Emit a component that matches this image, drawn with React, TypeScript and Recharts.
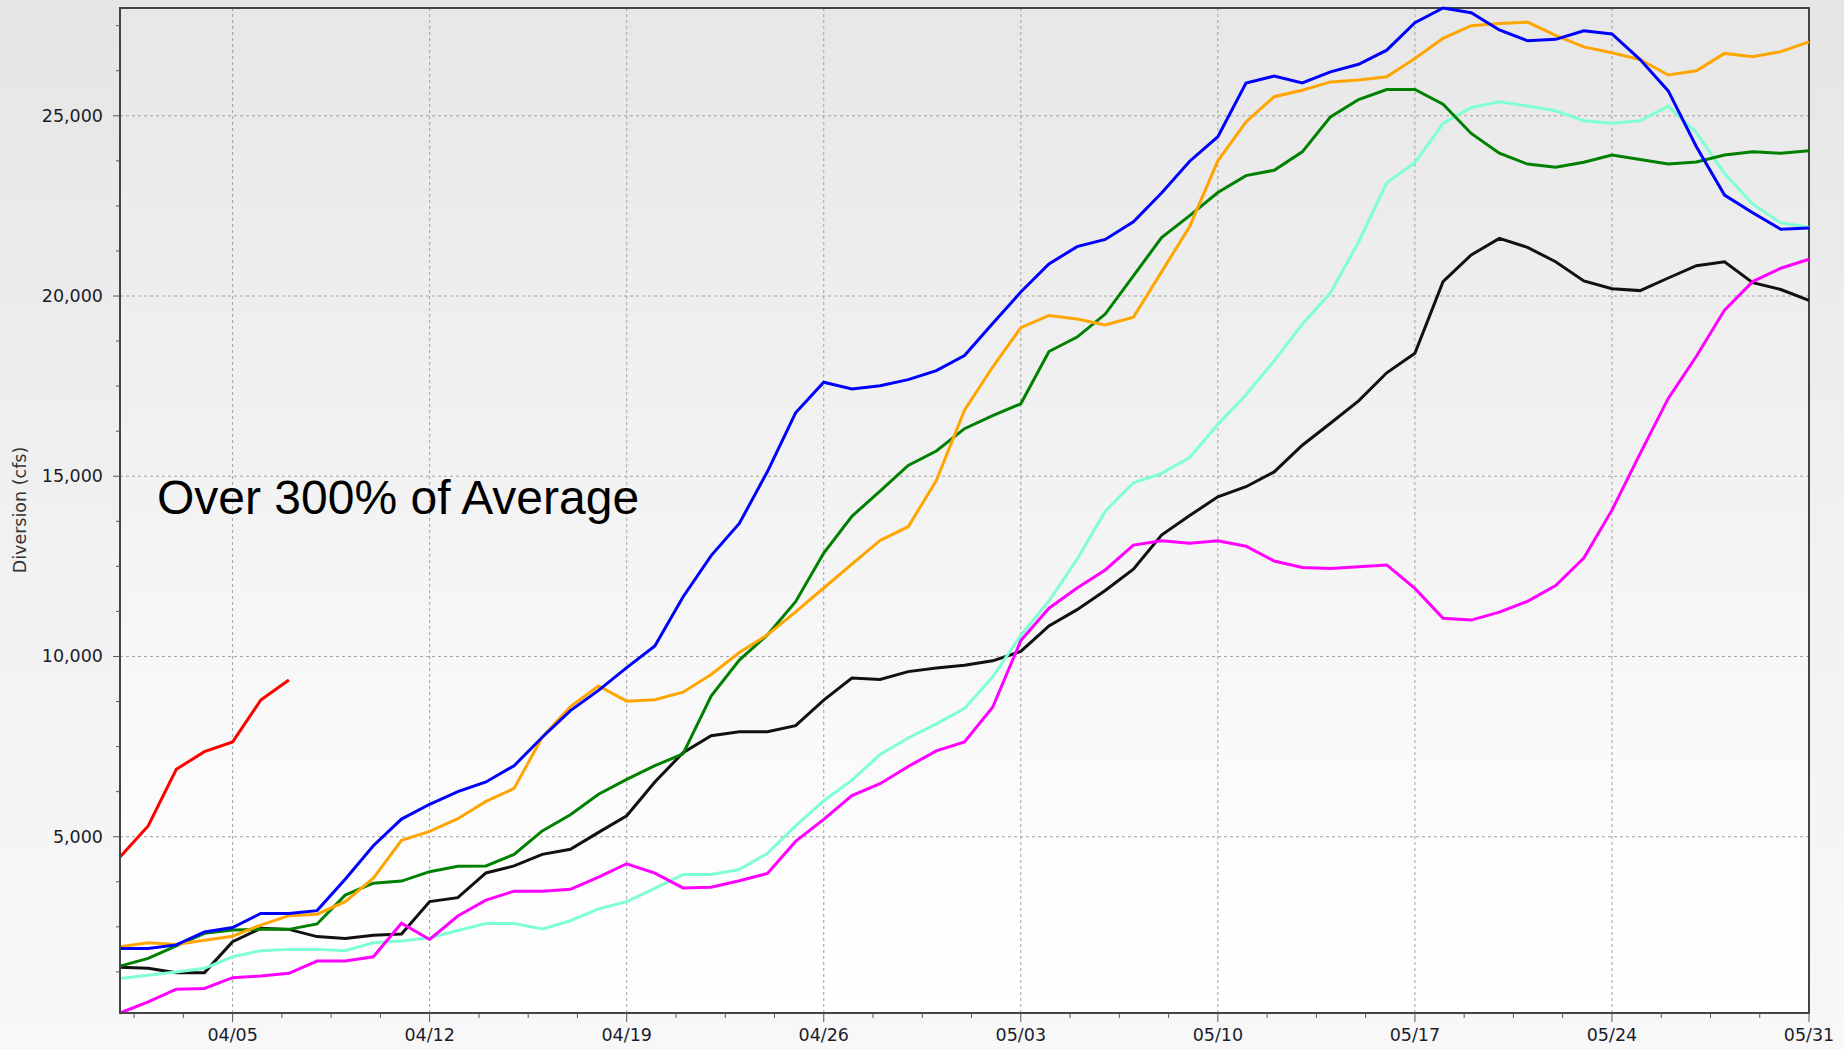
import React from 'react';
import { LineChart, Line, XAxis, YAxis, CartesianGrid, ReferenceArea } from 'recharts';

// daily dates, 04/01 .. 05/31
const dates: string[] = [];
for (let d = 1; d <= 30; d++) dates.push(`04/${String(d).padStart(2, '0')}`);
for (let d = 1; d <= 31; d++) dates.push(`05/${String(d).padStart(2, '0')}`);

const xTickLabels = ['04/05', '04/12', '04/19', '04/26', '05/03', '05/10', '05/17', '05/24', '05/31'];
const yTickLabels = [5000, 10000, 15000, 20000, 25000];

const blue = [
  1900, 1900, 2000, 2360, 2480, 2870, 2870, 2950, 3820, 4750,
  5490, 5900, 6250, 6520, 6970, 7760, 8500, 9060, 9690, 10290,
  11650, 12800, 13690, 15130, 16760, 17610, 17420, 17510, 17680, 17930,
  18350, 19240, 20110, 20890, 21370, 21570, 22060, 22860, 23740, 24420,
  25910, 26100, 25910, 26220, 26430, 26820, 27580, 27990, 27860, 27380,
  27080, 27120, 27360, 27270, 26560, 25690, 24140, 22800, 22310, 21850,
  21890,
];
const orange = [
  1950, 2060, 2010, 2130, 2240, 2550, 2810, 2850, 3200, 3850,
  4900, 5150, 5500, 5980, 6340, 7760, 8610, 9180, 8760, 8800,
  9010, 9500, 10110, 10600, 11240, 11900, 12560, 13220, 13600, 14880,
  16830, 18030, 19120, 19460, 19360, 19200, 19410, 20670, 21930, 23750,
  24830, 25530, 25710, 25940, 25990, 26080, 26590, 27150, 27500, 27560,
  27600, 27230, 26910, 26750, 26560, 26130, 26250, 26730, 26640, 26780,
  27050,
];
const green = [
  1410, 1625, 1970, 2320, 2410, 2430, 2430, 2580, 3380, 3710,
  3770, 4030, 4180, 4190, 4510, 5160, 5610, 6180, 6590, 6970,
  7300, 8900, 9900, 10600, 11520, 12870, 13890, 14590, 15300, 15700,
  16320, 16680, 17010, 18460, 18860, 19500, 20560, 21620, 22230, 22870,
  23340, 23490, 24000, 24970, 25450, 25730, 25730, 25320, 24510, 23960,
  23660, 23570, 23710, 23910, 23790, 23660, 23720, 23910, 24000, 23960,
  24030,
];
const black = [
  1380, 1350, 1230, 1230, 2090, 2460, 2430, 2230, 2180, 2270,
  2300, 3200, 3310, 3995, 4190, 4510, 4650, 5120, 5580, 6520,
  7330, 7800, 7910, 7910, 8080, 8790, 9400, 9360, 9580, 9680,
  9760, 9880, 10140, 10850, 11300, 11830, 12420, 13370, 13910, 14430,
  14710, 15120, 15860, 16470, 17090, 17870, 18410, 20400, 21140, 21600,
  21350, 20950, 20420, 20200, 20150, 20500, 20840, 20950, 20370, 20180,
  19880,
];
const aqua = [
  1070, 1160, 1250, 1350, 1670, 1840, 1875, 1875, 1840, 2060,
  2110, 2200, 2400, 2590, 2590, 2440, 2670, 3000, 3200, 3570,
  3950, 3950, 4090, 4540, 5300, 6000, 6570, 7280, 7740, 8130,
  8560, 9430, 10590, 11540, 12700, 14030, 14820, 15080, 15520, 16440,
  17260, 18200, 19220, 20090, 21500, 23140, 23700, 24790, 25230, 25390,
  25270, 25140, 24860, 24790, 24860, 25270, 24530, 23400, 22550, 22030,
  21900,
];
const magenta = [
  110, 420, 770, 790, 1090, 1135, 1210, 1550, 1550, 1670,
  2600, 2150, 2800, 3240, 3490, 3490, 3540, 3880, 4250, 3990,
  3580, 3600, 3780, 3980, 4870, 5480, 6140, 6470, 6950, 7380,
  7630, 8590, 10440, 11340, 11900, 12400, 13090, 13210, 13140, 13210,
  13060, 12650, 12470, 12440, 12490, 12540, 11890, 11060, 11010, 11230,
  11530, 11970, 12730, 14060, 15630, 17160, 18330, 19610, 20400, 20770,
  21020,
];
// current year, first week only
const red = [4440, 5300, 6870, 7360, 7630, 8790, 9350];

const rows = dates.map((date, i) => ({
  day: i,
  date,
  blue: blue[i],
  orange: orange[i],
  green: green[i],
  black: black[i],
  aqua: aqua[i],
  magenta: magenta[i],
  red: i < red.length ? red[i] : null,
}));

const allValues = [...blue, ...orange, ...green, ...black, ...aqua, ...magenta, ...red];
const yMin = Math.min(...allValues);
const yMax = Math.max(...allValues);

const xTicks = Array.from({ length: 35 }, (_, k) => 0.5 + k * 1.75);
const yTicks = Array.from({ length: 22 }, (_, k) => (k + 1) * 1250);
const xGridDays = xTickLabels.map((l) => dates.indexOf(l));

const tickFont = { fontFamily: '"DejaVu Sans", Verdana, sans-serif', fontSize: 17.5, fill: '#1c1c2c' };

const XTick = (props: any) => {
  const { x, y, payload } = props;
  const v = payload.value;
  const label = Number.isInteger(v) ? dates[v] : '';
  const major = xTickLabels.includes(label);
  return (
    <g>
      <line x1={x} x2={x} y1={y} y2={y + (major ? 9 : 5)} stroke="#555" strokeWidth={1} />
      {major && (
        <text x={x} y={y + 28} textAnchor="middle" {...tickFont}>
          {label}
        </text>
      )}
    </g>
  );
};

const YTick = (props: any) => {
  const { x, y, payload } = props;
  const v = payload.value;
  const major = yTickLabels.includes(v);
  return (
    <g>
      <line x1={x - (major ? 7 : 4)} x2={x} y1={y} y2={y} stroke="#555" strokeWidth={1} />
      {major && (
        <text x={x - 17} y={y + 6} textAnchor="end" {...tickFont}>
          {v.toLocaleString('en-US')}
        </text>
      )}
    </g>
  );
};

const lineProps = { type: 'linear' as const, dot: false, activeDot: false, strokeWidth: 3, isAnimationActive: false };

export default function App() {
  return (
    <div
      style={{
        position: 'absolute',
        left: 0,
        top: 0,
        width: 1844,
        height: 1049,
        background: 'linear-gradient(#e5e5e5, #f1f1f1 50%, #f8f8f8)',
      }}
    >
      <LineChart width={1844} height={1049} data={rows} margin={{ top: 8, right: 35, bottom: 0, left: 0 }}>
        <defs>
          <linearGradient id="plotBg" x1="0" y1="0" x2="0" y2="1">
            <stop offset="0%" stopColor="#e7e7e7" />
            <stop offset="50%" stopColor="#f3f3f3" />
            <stop offset="85%" stopColor="#fdfdfd" />
            <stop offset="100%" stopColor="#ffffff" />
          </linearGradient>
        </defs>
        <CartesianGrid
          fill="url(#plotBg)"
          stroke="#a2a2a2"
          strokeDasharray="3 3"
          horizontalValues={yTickLabels}
          verticalValues={xGridDays}
        />
        <XAxis
          dataKey="day"
          type="number"
          domain={[0, 60]}
          ticks={xTicks}
          interval={0}
          tick={<XTick />}
          tickLine={false}
          tickSize={0}
          tickMargin={0}
          height={36}
          axisLine={{ stroke: '#444', strokeWidth: 2 }}
        />
        <YAxis
          type="number"
          domain={[yMin, yMax]}
          ticks={yTicks}
          interval={0}
          tick={<YTick />}
          tickLine={false}
          tickSize={0}
          tickMargin={0}
          width={120}
          axisLine={{ stroke: '#444', strokeWidth: 2 }}
        />
        <Line dataKey="black" stroke="#111111" {...lineProps} />
        <Line dataKey="aqua" stroke="#7fffd4" {...lineProps} />
        <Line dataKey="magenta" stroke="#ff00ff" {...lineProps} />
        <Line dataKey="green" stroke="#008000" {...lineProps} />
        <Line dataKey="orange" stroke="#ffa500" {...lineProps} />
        <Line dataKey="blue" stroke="#0000ff" {...lineProps} />
        <Line dataKey="red" stroke="#ff0000" {...lineProps} connectNulls={false} />
        <ReferenceArea x1={0} x2={60} y1={yMin} y2={yMax} fill="none" fillOpacity={0} stroke="#444" strokeWidth={2} />
      </LineChart>
      <div
        style={{
          position: 'absolute',
          left: 20,
          top: 510,
          transform: 'translate(-50%, -50%) rotate(-90deg)',
          whiteSpace: 'nowrap',
          fontFamily: '"DejaVu Sans", Verdana, sans-serif',
          fontSize: 17.5,
          color: '#333',
        }}
      >
        Diversion (cfs)
      </div>
      <div
        style={{
          position: 'absolute',
          left: 157,
          top: 474,
          whiteSpace: 'nowrap',
          fontFamily: '"Liberation Sans", Arial, sans-serif',
          fontSize: 48,
          lineHeight: '48px',
          color: '#000',
        }}
      >
        Over 300% of Average
      </div>
    </div>
  );
}
